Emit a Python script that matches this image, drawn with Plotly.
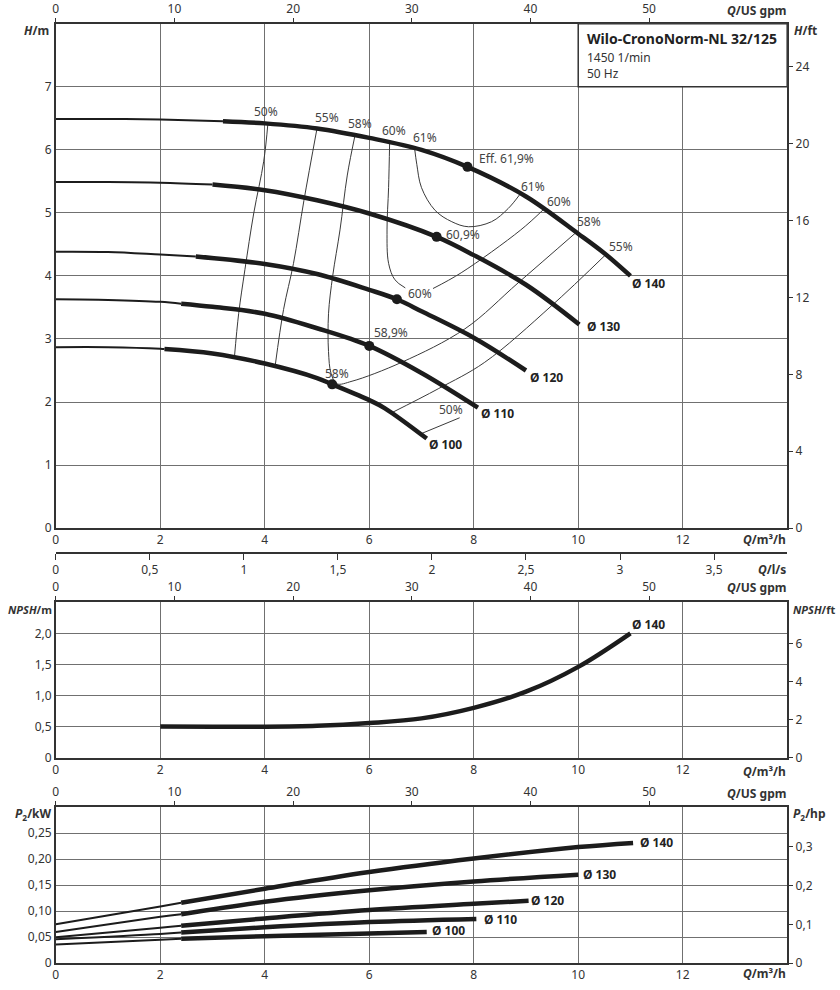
import plotly.graph_objects as go

# ---------------- data ----------------
diam_labels = ["Ø 140", "Ø 130", "Ø 120", "Ø 110", "Ø 100"]

# H-Q curves (Q in m3/h, H in m)
q140 = [0, 1, 2, 3.2, 4, 5, 6, 7, 7.88, 9, 10, 10.5, 11.0]
h140 = [6.49, 6.49, 6.48, 6.455, 6.42, 6.34, 6.19, 6.0, 5.73, 5.26, 4.67, 4.36, 4.0]
q130 = [0, 1, 2, 3.0, 4, 5, 6, 7.29, 8, 9, 10.02]
h130 = [5.49, 5.49, 5.48, 5.45, 5.36, 5.20, 4.99, 4.62, 4.33, 3.86, 3.23]
q120 = [0, 1, 2, 2.68, 4, 5, 6, 6.53, 7, 8, 9.0]
h120 = [4.385, 4.38, 4.34, 4.31, 4.19, 4.03, 3.78, 3.63, 3.44, 3.02, 2.50]
q110 = [0, 1, 2, 2.4, 3, 4, 5, 6, 7, 8.08]
h110 = [3.63, 3.62, 3.59, 3.56, 3.51, 3.40, 3.17, 2.89, 2.46, 1.91]
q100 = [0, 1, 2, 2.08, 3, 4, 5, 5.29, 6, 6.3, 7.1]
h100 = [2.87, 2.87, 2.845, 2.84, 2.77, 2.61, 2.38, 2.28, 2.03, 1.90, 1.42]
thick_from_hq = [3.2, 3.0, 2.68, 2.4, 2.08]

# best efficiency points
bep_q = [7.88, 7.29, 6.53, 6.0, 5.29]
bep_h = [5.73, 4.62, 3.63, 2.89, 2.28]
bep_text = ["Eff. 61,9%", "60,9%", "60%", "58,9%", "58%"]

# iso-efficiency lines
eta50a_q = [4.06, 3.98, 3.79, 3.62, 3.5, 3.42]
eta50a_h = [6.42, 5.82, 5.0, 4.1, 3.4, 2.72]
eta55a_q = [5.0, 4.75, 4.55, 4.36, 4.2]
eta55a_h = [6.34, 5.2, 4.2, 3.47, 2.58]
eta58_q = [5.73, 5.58, 5.44, 5.3, 5.22, 5.22, 5.27, 5.38, 5.67, 6.62, 7.83, 8.85, 9.96]
eta58_h = [6.24, 5.6, 4.73, 4.0, 3.4, 2.8, 2.45, 2.29, 2.33, 2.63, 3.16, 3.89, 4.69]
eta60a_q = [6.39, 6.37, 6.34, 6.37, 6.49, 6.69]
eta60a_h = [6.12, 5.4, 4.73, 4.2, 3.94, 3.81]
eta60b_q = [7.22, 7.76, 8.9, 9.33]
eta60b_h = [3.80, 4.05, 4.73, 5.05]
eta61_q = [6.87, 6.91, 7.0, 7.26, 7.58, 7.9, 8.34, 8.66, 8.88]
eta61_h = [6.01, 5.77, 5.4, 5.04, 4.86, 4.78, 4.86, 5.07, 5.29]
eta55b_q = [10.53, 9.48, 8.21, 7.32, 6.43]
eta55b_h = [4.34, 3.52, 2.63, 2.21, 1.83]
eta50b_q = [7.0, 7.73]
eta50b_h = [1.50, 1.75]

eta_lbl_text = ["50%", "55%", "58%", "60%", "61%", "61%", "60%", "58%", "55%", "50%"]
eta_lbl_q = [4.03, 5.19, 5.82, 6.47, 7.06, 9.14, 9.64, 10.21, 10.82, 7.56]
eta_lbl_h = [6.61, 6.51, 6.42, 6.31, 6.19, 5.42, 5.18, 4.87, 4.47, 1.88]

# NPSH
npsh_q = [2, 3, 4, 5, 6, 7, 8, 9, 10, 11]
npsh_v = [0.5, 0.495, 0.495, 0.51, 0.555, 0.63, 0.80, 1.06, 1.46, 2.0]

# P2 (kW)
p_q140 = [0, 2, 2.4, 4, 6, 8, 10, 11.05]
p_v140 = [0.0746, 0.109, 0.116, 0.143, 0.175, 0.201, 0.223, 0.231]
p_q130 = [0, 2, 2.4, 4, 6, 8, 10.0]
p_v130 = [0.060, 0.089, 0.094, 0.118, 0.140, 0.157, 0.170]
p_q120 = [0, 2, 2.4, 4, 6, 8, 9.05]
p_v120 = [0.050, 0.068, 0.072, 0.086, 0.102, 0.114, 0.120]
p_q110 = [0, 2, 2.4, 4, 6, 8.05]
p_v110 = [0.046, 0.056, 0.059, 0.069, 0.079, 0.085]
p_q100 = [0, 2, 2.4, 4, 6, 7.1]
p_v100 = [0.036, 0.045, 0.047, 0.052, 0.057, 0.060]
thick_from_p = 2.4

# tick labels
q_ticks = [0, 2, 4, 6, 8, 10, 12]
gpm_ticks = [0, 10, 20, 30, 40, 50]
ls_ticks = [0, 0.5, 1, 1.5, 2, 2.5, 3, 3.5]
ls_text = ["0", "0,5", "1", "1,5", "2", "2,5", "3", "3,5"]
h_ticks = [0, 1, 2, 3, 4, 5, 6, 7]
hft_ticks = [0, 4, 8, 12, 16, 20, 24]
npsh_ticks = [0, 0.5, 1.0, 1.5, 2.0]
npsh_text = ["0", "0,5", "1,0", "1,5", "2,0"]
npshft_ticks = [0, 2, 4, 6]
p_ticks = [0, 0.05, 0.10, 0.15, 0.20, 0.25]
p_text = ["0", "0,05", "0,10", "0,15", "0,20", "0,25"]
hp_ticks = [0, 0.1, 0.2, 0.3]
hp_text = ["0", "0,1", "0,2", "0,3"]

GPM = 4.40287
FT = 3.28084
HP = 1 / 0.7457
QMAX = 14.0

# ---------------- figure ----------------
W, Hh = 840, 990
def px(x): return x / W
def py(y): return 1 - y / Hh

FONT = "Noto Sans"
INK = "#1c1c1c"
GRID = "#707070"
AXC = "#333333"
TXT = "#333333"

fig = go.Figure()

def split(q, v, qs):
    thin_q = [a for a in q if a <= qs]
    thin_v = [b for a, b in zip(q, v) if a <= qs]
    thick_q = [a for a in q if a >= qs]
    thick_v = [b for a, b in zip(q, v) if a >= qs]
    return thin_q, thin_v, thick_q, thick_v

def add_curve(q, v, qs, xa, ya):
    tq, tv, kq, kv = split(q, v, qs)
    fig.add_trace(go.Scatter(x=tq, y=tv, mode="lines", line=dict(color=INK, width=2, shape="spline"),
                             xaxis=xa, yaxis=ya, showlegend=False, hoverinfo="skip"))
    fig.add_trace(go.Scatter(x=kq, y=kv, mode="lines", line=dict(color=INK, width=4.5, shape="spline"),
                             xaxis=xa, yaxis=ya, showlegend=False, hoverinfo="skip"))

# iso-efficiency lines (under pump curves)
for eq, eh in [(eta50a_q, eta50a_h), (eta55a_q, eta55a_h), (eta58_q, eta58_h), (eta60a_q, eta60a_h),
               (eta60b_q, eta60b_h), (eta61_q, eta61_h), (eta55b_q, eta55b_h), (eta50b_q, eta50b_h)]:
    fig.add_trace(go.Scatter(x=eq, y=eh, mode="lines", line=dict(color="#3a3a3a", width=1, shape="spline"),
                             xaxis="x", yaxis="y", showlegend=False, hoverinfo="skip"))

hq = [(q140, h140), (q130, h130), (q120, h120), (q110, h110), (q100, h100)]
for (q, h), qs in zip(hq, thick_from_hq):
    add_curve(q, h, qs, "x", "y")

fig.add_trace(go.Scatter(x=bep_q, y=bep_h, mode="markers", marker=dict(color=INK, size=10),
                         xaxis="x", yaxis="y", showlegend=False, hoverinfo="skip"))

# NPSH
fig.add_trace(go.Scatter(x=npsh_q, y=npsh_v, mode="lines", line=dict(color=INK, width=4.5, shape="spline"),
                         xaxis="x4", yaxis="y3", showlegend=False, hoverinfo="skip"))

# P2
pc = [(p_q140, p_v140), (p_q130, p_v130), (p_q120, p_v120), (p_q110, p_v110), (p_q100, p_v100)]
for q, v in pc:
    add_curve(q, v, thick_from_p, "x6", "y5")

# invisible anchors so that the secondary unit axes are drawn
for xa, ya in [("x2", "y"), ("x", "y2"), ("x3", "y"), ("x5", "y3"), ("x4", "y4"), ("x7", "y5"), ("x6", "y6")]:
    fig.add_trace(go.Scatter(x=[0], y=[0], mode="markers", marker=dict(opacity=0, size=1),
                             xaxis=xa, yaxis=ya, showlegend=False, hoverinfo="skip"))

# ---------------- axes ----------------
dom_x = [px(53), px(787)]
dom_top = [py(531), py(21)]
dom_npsh = [py(763), py(606)]
dom_p = [py(971), py(813)]

tickfont = dict(family=FONT, size=12, color=TXT)
base_ax = dict(showline=True, linecolor=AXC, linewidth=1.5, mirror=True, zeroline=False,
               gridcolor=GRID, gridwidth=1, tickfont=tickfont, fixedrange=True)

def qaxis(anchor):
    return dict(base_ax, domain=dom_x, anchor=anchor, range=[0, QMAX], tickvals=q_ticks,
                showgrid=True, ticks="")

def gpm_axis(over, anchor):
    return dict(overlaying=over, anchor=anchor, side="top", range=[0, QMAX * GPM], tickvals=gpm_ticks,
                ticks="outside", ticklen=5, tickcolor=AXC, showgrid=False, showline=False,
                zeroline=False, tickfont=tickfont, fixedrange=True)

def right_axis(over, anchor, rng, tv, tt=None):
    d = dict(overlaying=over, anchor=anchor, side="right", range=rng, tickvals=tv,
             ticks="outside", ticklen=5, tickcolor=AXC, showgrid=False, showline=False,
             zeroline=False, tickfont=tickfont, fixedrange=True)
    if tt is not None:
        d["ticktext"] = tt
    return d

fig.update_layout(
    xaxis=qaxis("y"),
    yaxis=dict(base_ax, domain=dom_top, anchor="x", range=[0, 8], tickvals=h_ticks, showgrid=True, ticks=""),
    xaxis2=gpm_axis("x", "y"),
    yaxis2=right_axis("y", "x", [0, 8 * FT], hft_ticks),
    xaxis3=dict(overlaying="x", anchor="free", position=py(556), side="bottom", range=[0, QMAX / 3.6],
                tickvals=ls_ticks, ticktext=ls_text, ticks="outside", ticklen=6, tickcolor=AXC,
                showline=True, linecolor=AXC, linewidth=1.5, showgrid=False, zeroline=False,
                tickfont=tickfont, fixedrange=True),
    xaxis4=qaxis("y3"),
    yaxis3=dict(base_ax, domain=dom_npsh, anchor="x4", range=[0, 2.5], tickvals=npsh_ticks,
                ticktext=npsh_text, showgrid=True, ticks=""),
    xaxis5=gpm_axis("x4", "y3"),
    yaxis4=right_axis("y3", "x4", [0, 2.5 * FT], npshft_ticks),
    xaxis6=qaxis("y5"),
    yaxis5=dict(base_ax, domain=dom_p, anchor="x6", range=[0, 0.3], tickvals=p_ticks,
                ticktext=p_text, showgrid=True, ticks=""),
    xaxis7=gpm_axis("x6", "y5"),
    yaxis6=right_axis("y5", "x6", [0, 0.3 * HP], hp_ticks, hp_text),
    width=W, height=Hh,
    margin=dict(l=0, r=0, t=0, b=0),
    paper_bgcolor="white", plot_bgcolor="white",
    showlegend=False,
)

# title box
fig.add_shape(type="rect", xref="x", yref="y", x0=10, x1=QMAX, y0=7, y1=8,
              line=dict(color=AXC, width=1.5), fillcolor="white", layer="above")

ann = []
def A(text, x, y, xanchor="left", size=12, bold=False, color=TXT, xref="paper", yref="paper"):
    ann.append(dict(text=("<b>%s</b>" % text) if bold else text, x=x, y=y, xref=xref, yref=yref,
                    xanchor=xanchor, yanchor="middle", showarrow=False,
                    font=dict(family=FONT, size=size, color=color)))

A("Wilo-CronoNorm-NL 32/125", px(584), py(36), bold=True, size=14, color="#222")
A("1450 1/min", px(584), py(55), size=12)
A("50 Hz", px(584), py(71), size=12)

# axis titles
A("<i>H</i>/m", px(48), py(28), xanchor="right", bold=True)
A("<i>H</i>/ft", px(792), py(28), bold=True)
for yy in (8, 591, 799):
    A("<i>Q</i>/US gpm", px(788), py(yy), xanchor="right", bold=True)
for yy in (543, 777, 981):
    A("<i>Q</i>/m³/h", px(788), py(yy), xanchor="right", bold=True)
A("<i>Q</i>/l/s", px(788), py(573), xanchor="right", bold=True)
A("<i>NPSH</i>/m", px(51), py(613), xanchor="right", bold=True, size=11)
A("<i>NPSH</i>/ft", px(791), py(613), bold=True, size=11)
A("<i>P</i><sub>2</sub>/kW", px(51), py(820), xanchor="right", bold=True)
A("<i>P</i><sub>2</sub>/hp", px(791), py(820), bold=True)

# efficiency labels
for t, q, h in zip(eta_lbl_text, eta_lbl_q, eta_lbl_h):
    A(t, q, h, xanchor="center", color="#444", xref="x", yref="y")
# BEP labels
bep_lbl_q = [8.06, 7.43, 6.70, 6.05, 5.11]
bep_lbl_h = [5.86, 4.65, 3.72, 3.11, 2.45]
for t, q, h in zip(bep_text, bep_lbl_q, bep_lbl_h):
    A(t, q, h, xanchor="left", color="#444", xref="x", yref="y")

# diameter labels
hq_lbl_q = [11.35, 10.48, 9.39, 8.45, 7.46]
hq_lbl_h = [3.88, 3.19, 2.39, 1.81, 1.32]
for t, q, h in zip(diam_labels, hq_lbl_q, hq_lbl_h):
    A(t, q, h, xanchor="center", bold=True, color="#222", xref="x", yref="y")
A(diam_labels[0], 11.34, 2.14, xanchor="center", bold=True, color="#222", xref="x4", yref="y3")
p_lbl_q = [11.49, 10.4, 9.41, 8.51, 7.52]
p_lbl_v = [0.231, 0.170, 0.120, 0.084, 0.062]
for t, q, v in zip(diam_labels, p_lbl_q, p_lbl_v):
    A(t, q, v, xanchor="center", bold=True, color="#222", xref="x6", yref="y5")

fig.update_layout(annotations=ann)
fig.write_html("out.html", config={"displayModeBar": False},
               post_script="document.body.style.margin='0';document.body.style.overflow='hidden';")
